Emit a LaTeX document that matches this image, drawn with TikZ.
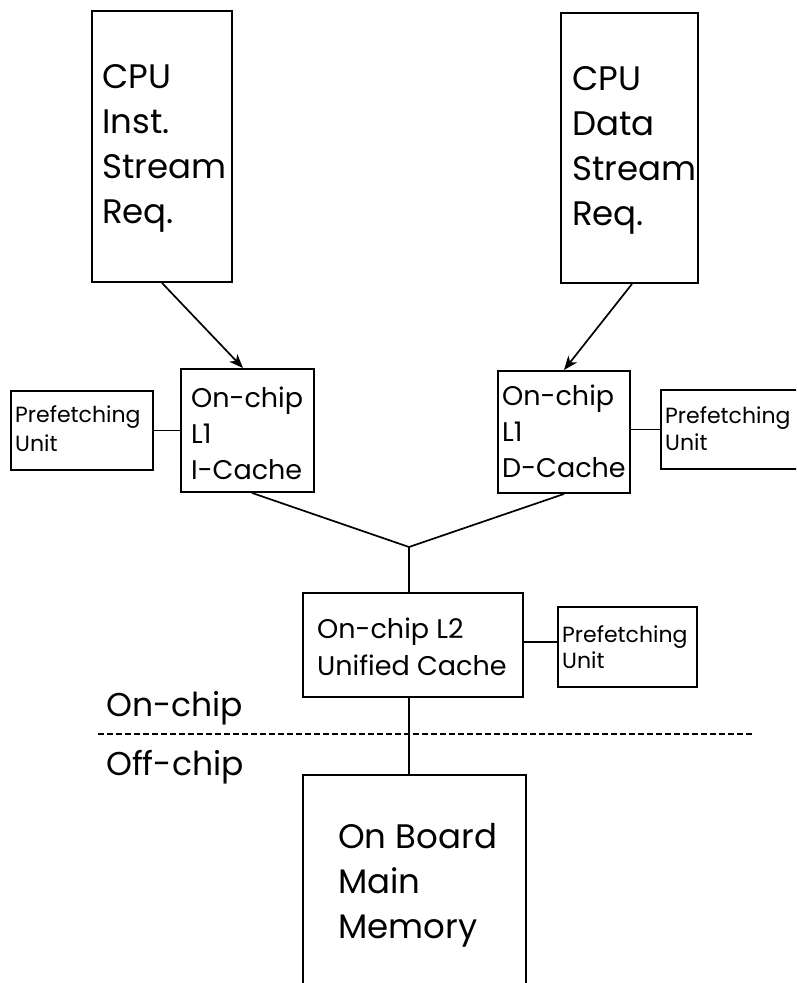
\documentclass[tikz,border=0pt]{standalone}
\usepackage{fontspec}
\setmainfont{Poppins}
\usetikzlibrary{arrows.meta,calc}
\tikzset{
  box/.style={draw, line width=1.9pt, inner sep=0pt},
  txt/.style={inner sep=0pt, anchor=base west, align=left},
  big/.style={font=\fontsize{34}{45}\selectfont},
  med/.style={font=\fontsize{27}{36}\selectfont},
  sml/.style={font=\fontsize{22}{29}\selectfont},
  lbl/.style={font=\fontsize{33}{40}\selectfont},
  conn/.style={line width=1.7pt},
  arr/.style={line width=1.7pt, -{Stealth[length=14pt,width=11pt,inset=4pt]}}
}
\begin{document}
\begin{tikzpicture}[x=1pt,y=-1pt]
\clip (0,0) rectangle (796,983);
% boxes
\node[box, minimum width=140pt, minimum height=271pt] (cpuI) at (162,146.5) {};
\node[box, minimum width=137pt, minimum height=270pt] (cpuD) at (629.5,148) {};
\node[box, minimum width=133pt, minimum height=123pt] (l1i) at (247.5,430.5) {};
\node[box, minimum width=132pt, minimum height=122pt] (l1d) at (564,432) {};
\node[box, minimum width=142pt, minimum height=79pt] (pfL) at (82,430.5) {};
\node[box, minimum width=150pt, minimum height=79pt] (pfR) at (736,429.5) {};
\node[box, minimum width=220pt, minimum height=104pt] (l2) at (413,645) {};
\node[box, minimum width=139pt, minimum height=80pt] (pfL2) at (627.5,647) {};
\node[box, minimum width=223pt, minimum height=230pt] (mem) at (414.5,890) {};
% texts (anchored at the baseline of their last line)
\node[txt, big] (tI) at (102,223) {CPU\\Inst.\\Stream\\Req.};
\node[txt, big] (tD) at (572,225) {CPU\\Data\\Stream\\Req.};
\node[txt, med] (tl1i) at (191,479) {On-chip\\L1\\I-Cache};
\node[txt, med] (tl1d) at (502,477) {On-chip\\L1\\D-Cache};
\node[txt, sml] (tpfL) at (15,451) {Prefetching\\Unit};
\node[txt, sml, font=\fontsize{22}{27}\selectfont] (tpfR) at (665,450) {Prefetching\\Unit};
\node[txt, sml, font=\fontsize{22}{26}\selectfont] (tpfL2) at (562,668) {Prefetching\\Unit};
\node[txt, med, font=\fontsize{27}{37}\selectfont] (tl2) at (317,675) {On-chip L2\\Unified Cache};
\node[txt, big] (tmem) at (338,938) {On Board\\Main\\Memory};
\node[txt, lbl] (lon) at (106,716) {On-chip};
\node[txt, lbl] (loff) at (106,775) {Off-chip};
% connectors
\coordinate (j) at (409,547);
\draw[arr] (cpuI.south) -- ([xshift=-4.5pt]l1i.north);
\draw[arr] ([xshift=2.5pt]cpuD.south) -- (l1d.north);
\draw[conn] ([xshift=4.5pt]l1i.south) -- (j) -- (l1d.south);
\draw[conn] (j) -- (j |- l2.north);
\draw[conn] (l2.south -| j) -- (mem.north -| j);
\draw[conn] (pfL.east) -- (l1i.west);
\draw[conn] (l1d.east |- pfR.west) -- (pfR.west);
\draw[conn] ([yshift=3pt]l2.east) -- ([yshift=3pt]l2.east -| pfL2.west);
\coordinate (dl) at (98,734);
\coordinate (dr) at (752,734);
\draw[line width=1.7pt, dash pattern=on 6pt off 3pt] (dl) -- (dr);
\end{tikzpicture}
\end{document}
